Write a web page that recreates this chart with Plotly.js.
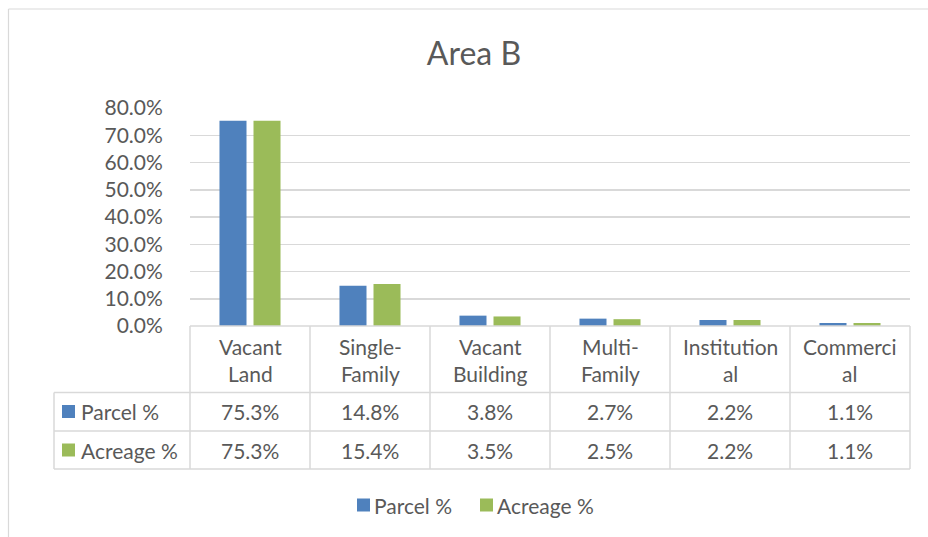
<!DOCTYPE html>
<html>
<head>
<meta charset="utf-8">
<script src="https://cdn.plot.ly/plotly-3.0.1.min.js"></script>
<style>
html,body{margin:0;padding:0;background:#fff;}
#chart{width:928px;height:537px;}
</style>
</head>
<body>
<div id="chart"></div>
<script>
// ---- data ----
const categories = ["Vacant Land", "Single-Family", "Vacant Building", "Multi-Family", "Institutional", "Commercial"];
const headerLabels = ["Vacant<br>Land", "Single-<br>Family", "Vacant<br>Building", "Multi-<br>Family", "Institution<br>al", "Commerci<br>al"];
const seriesNames = ["Parcel %", "Acreage %"];
const parcelPct = [0.753, 0.148, 0.038, 0.027, 0.022, 0.011];
const acreagePct = [0.753, 0.154, 0.035, 0.025, 0.022, 0.011];
const titleText = "Area B";

// ---- style ----
const colors = ["#4F81BD", "#9BBB59"];
const textColor = "#595959";
const gridColor = "#D9D9D9";
const FONT = "Lato, 'Open Sans', sans-serif";

// plot geometry (pixels)
const W = 928, Hh = 537;
const L = 190, R = 910, T = 108, B = 326;
const pw = R - L, ph = B - T;
const xp = px => (px - L) / pw;
const yp = py => (B - py) / ph;

const seriesVals = [parcelPct, acreagePct];
const traces = seriesVals.map((vals, k) => ({
  type: "bar",
  x: categories,
  y: vals,
  name: seriesNames[k],
  marker: {color: colors[k]},
  showlegend: false,
  hoverinfo: "skip"
}));

const shapes = [];
const annotations = [];
const lineStyle = {color: gridColor, width: 1.5};
// outer chart frame (top and left edges)
shapes.push({type: "line", xref: "paper", yref: "paper", x0: xp(8.5), x1: xp(930), y0: yp(9), y1: yp(9), line: {color: gridColor, width: 1.2}});
shapes.push({type: "line", xref: "paper", yref: "paper", x0: xp(8.5), x1: xp(8.5), y0: yp(9), y1: yp(540), line: {color: gridColor, width: 1.2}});

// table
const rowLines = [B, 392.5, 431, 469];
const tableLeft = 54;
rowLines.forEach((y, i) => {
  shapes.push({type: "line", xref: "paper", yref: "paper",
    x0: i === 0 ? 0 : xp(tableLeft), x1: 1, y0: yp(y), y1: yp(y), line: lineStyle});
});
const n = categories.length;
for (let i = 0; i <= n; i++) {
  shapes.push({type: "line", xref: "paper", yref: "paper",
    x0: i / n, x1: i / n, y0: yp(B), y1: yp(469), line: lineStyle});
}
shapes.push({type: "line", xref: "paper", yref: "paper",
  x0: xp(tableLeft), x1: xp(tableLeft), y0: yp(392.5), y1: yp(469), line: lineStyle});

const cellFont = {family: FONT, size: 21, color: textColor};
headerLabels.forEach((lab, i) => {
  annotations.push({xref: "x", yref: "paper", x: i, y: yp(359.5), text: lab,
    showarrow: false, xanchor: "center", yanchor: "middle", font: cellFont, align: "center"});
});
const rowCenters = [411.5, 450];
seriesVals.forEach((vals, k) => {
  vals.forEach((v, i) => {
    annotations.push({xref: "x", yref: "paper", x: i, y: yp(rowCenters[k]),
      text: (v * 100).toFixed(1) + "%", showarrow: false, xanchor: "center", yanchor: "middle", font: cellFont});
  });
  // legend key in table
  shapes.push({type: "rect", xref: "paper", yref: "paper",
    x0: xp(62), x1: xp(75), y0: yp(rowCenters[k] - 6.5), y1: yp(rowCenters[k] + 6.5),
    fillcolor: colors[k], line: {width: 0}});
  annotations.push({xref: "paper", yref: "paper", x: xp(79), y: yp(rowCenters[k]),
    text: seriesNames[k], showarrow: false, xanchor: "left", yanchor: "middle", font: cellFont});
});

// bottom legend
const legY = 505;
const legX = [357, 480];
seriesNames.forEach((nm, k) => {
  shapes.push({type: "rect", xref: "paper", yref: "paper",
    x0: xp(legX[k]), x1: xp(legX[k] + 13), y0: yp(legY - 6.5), y1: yp(legY + 6.5),
    fillcolor: colors[k], line: {width: 0}});
  annotations.push({xref: "paper", yref: "paper", x: xp(legX[k] + 15), y: yp(legY),
    text: nm, showarrow: false, xanchor: "left", yanchor: "middle", font: cellFont});
});

const layout = {
  width: W, height: Hh,
  margin: {l: L, r: W - R, t: T, b: Hh - B, pad: 0},
  paper_bgcolor: "#fff", plot_bgcolor: "#fff",
  font: {family: FONT, color: textColor},
  title: {text: titleText, font: {family: FONT, size: 32, color: textColor},
    x: 474 / W, xref: "container", xanchor: "center", y: 1 - 54 / Hh, yref: "container", yanchor: "middle"},
  barmode: "group",
  bargap: 0.433,
  bargroupgap: 0.206,
  xaxis: {type: "category", showticklabels: false, showgrid: false, zeroline: false, showline: false, ticks: "", fixedrange: true},
  yaxis: {range: [0, 0.8], dtick: 0.1, tick0: 0, tickformat: ".1%", showgrid: true, gridcolor: gridColor, gridwidth: 1.5,
    zeroline: false, showline: false, ticks: "outside", ticklen: 22, tickcolor: "rgba(0,0,0,0)",
    tickfont: {family: FONT, size: 21, color: textColor}, fixedrange: true},
  shapes: shapes,
  annotations: annotations
};

Plotly.newPlot("chart", traces, layout, {displayModeBar: false, staticPlot: true});
</script>
</body>
</html>
